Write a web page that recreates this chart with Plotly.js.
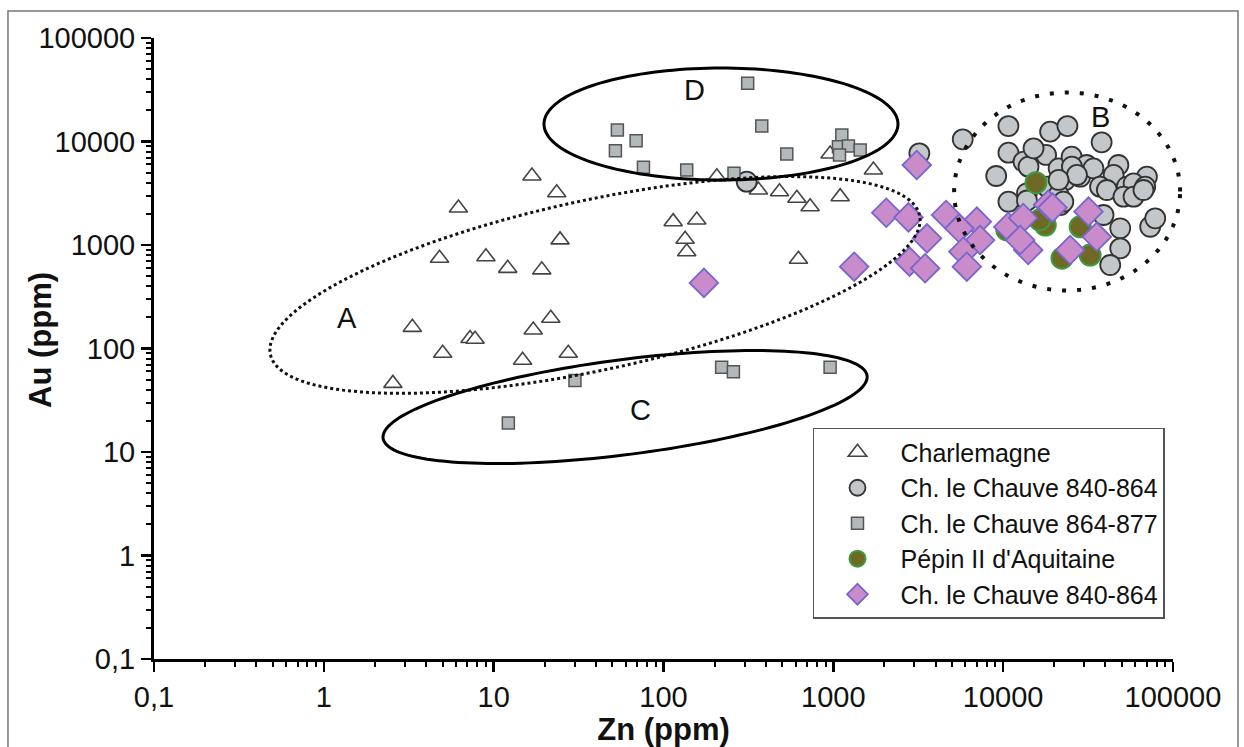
<!DOCTYPE html>
<html>
<head>
<meta charset="utf-8">
<script src="https://cdn.plot.ly/plotly-3.0.1.min.js"></script>
<style>html,body{margin:0;padding:0;background:#fff;}#chart{width:1244px;height:747px;}</style>
</head>
<body>
<div id="chart"></div>
<script>
// ---- data (Zn ppm, Au ppm) ----
const charlemagneZn = [6.2, 16.8, 23.5, 24.6, 4.8, 9.0, 12.1, 19.2, 114, 157, 134, 137, 623, 206, 362, 482, 610, 730, 1097, 1722, 957, 3.32, 5.01, 7.26, 7.77, 2.55, 14.8, 17.1, 21.7, 27.5];
const charlemagneAu = [2280, 4640, 3200, 1120, 745, 770, 595, 575, 1680, 1745, 1135, 860, 728, 4570, 3400, 3270, 2825, 2345, 2930, 5310, 7570, 160, 90, 125, 123, 46, 77, 151, 196, 90];

const chauve1Zn = [309, 5780, 3210, 10740, 18900, 23900, 38000, 10740, 9100, 10740, 15240, 17900, 13180, 14100, 21200, 25300, 31000, 23200, 28400, 34000, 47700, 44700, 70200, 37200, 40800, 53500, 58600, 68600, 51100, 58600, 67000, 39000, 48900, 48900, 42700, 73400, 78600, 21700, 13800, 18100, 25400, 27200, 21200, 22600, 21200, 15100, 13800];
const chauve1Au = [4090, 10500, 7690, 14100, 12450, 14100, 9820, 7800, 4640, 2620, 8280, 7410, 6380, 5710, 5500, 7130, 5930, 4250, 4570, 5500, 5930, 4750, 4570, 3660, 3400, 3660, 3940, 3660, 2930, 2930, 3400, 1950, 1450, 929, 641, 1500, 1810, 2430, 3160, 3660, 5710, 4750, 3040, 2620, 4250, 8590, 2690];

const chauve2Zn = [53.5, 69.0, 52.1, 76.2, 137, 313, 379, 532, 260, 1122, 1072, 1227, 1087, 1439, 30.1, 12.2, 220, 258, 957];
const chauve2Au = [12900, 10180, 8150, 5630, 5310, 36500, 14100, 7570, 4930, 11560, 8910, 9050, 7410, 8270, 49, 19.1, 65.8, 59.7, 65.8];

const pepinZn = [15600, 17700, 16400, 10500, 28400, 22200, 32500];
const pepinAu = [4000, 1560, 1745, 1400, 1500, 745, 800];

const chauve3Zn = [173, 3100, 2050, 2770, 3560, 1327, 2810, 3470, 4610, 7000, 5520, 7310, 5830, 6110, 10720, 13120, 14040, 12590, 18400, 19500, 31800, 35600, 24800];
const chauve3Au = [430, 5930, 2050, 1850, 1160, 617, 690, 596, 1950, 1680, 1450, 1117, 861, 617, 1493, 1824, 895, 1117, 2450, 2300, 2100, 1200, 895];

const seriesNames = ["Charlemagne", "Ch. le Chauve 840-864", "Ch. le Chauve 864-877", "Pépin II d'Aquitaine", "Ch. le Chauve 840-864"];

const tickVals = [0.1, 1, 10, 100, 1000, 10000, 100000];
const tickText = ["0,1", "1", "10", "100", "1000", "10000", "100000"];

// ---- helper geometry ----
const PW = 1019, PH = 621; // plot area in px
function ellipsePath(zn, au, a, b, deg) {
  const cx = (Math.log10(zn) + 1) / 6, cy = (Math.log10(au) + 1) / 6;
  const t = deg * Math.PI / 180;
  let p = '';
  for (let i = 0; i <= 160; i++) {
    const s = 2 * Math.PI * i / 160;
    const ex = a * Math.cos(s), ey = b * Math.sin(s);
    const px = ex * Math.cos(t) - ey * Math.sin(t);
    const py = ex * Math.sin(t) + ey * Math.cos(t);
    p += (i ? 'L' : 'M') + (cx + px / PW).toFixed(5) + ',' + (cy + py / PH).toFixed(5);
  }
  return p + 'Z';
}
const minorVals = [];
for (let e = -1; e < 5; e++) for (let d = 2; d <= 9; d++) minorVals.push(d * Math.pow(10, e));

const traces = [
  {x: charlemagneZn, y: charlemagneAu, name: seriesNames[0], type: 'scatter', mode: 'markers',
   marker: {symbol: 'triangle-up', size: 16, color: '#ffffff', line: {color: '#444', width: 1.6}}},
  {x: chauve1Zn, y: chauve1Au, name: seriesNames[1], type: 'scatter', mode: 'markers',
   marker: {symbol: 'circle', size: 20, color: '#c3c7ca', line: {color: '#333', width: 1.8}}},
  {x: chauve2Zn, y: chauve2Au, name: seriesNames[2], type: 'scatter', mode: 'markers',
   marker: {symbol: 'square', size: 12, color: '#b3b8bb', line: {color: '#555', width: 1.5}}},
  {x: pepinZn, y: pepinAu, name: seriesNames[3], type: 'scatter', mode: 'markers',
   marker: {symbol: 'circle', size: 21, color: '#6e6a24', line: {color: '#3f9a3f', width: 2}}},
  {x: chauve3Zn, y: chauve3Au, name: seriesNames[4], type: 'scatter', mode: 'markers',
   marker: {symbol: 'diamond', size: 22, color: '#c98bc9', line: {color: '#7766cc', width: 1.8}}}
];

const font = 'Liberation Sans, Arial, sans-serif';
const axisCommon = {
  type: 'log', showgrid: false, zeroline: false, showline: true, linecolor: '#000', linewidth: 3,
  ticks: 'outside', ticklen: 10, tickwidth: 2.5, tickcolor: '#000',
  tickmode: 'array', tickvals: tickVals, ticktext: tickText,
  tickfont: {family: font, size: 29, color: '#111'},
  minor: {tickmode: 'array', tickvals: minorVals, ticks: 'outside', ticklen: 5, tickwidth: 2, tickcolor: '#000'},
  range: [-1, 5], fixedrange: true
};

const lbl = (t, px, py) => ({text: t, xref: 'paper', yref: 'paper', x: (px - 154) / PW, y: (659 - py) / PH,
  xanchor: 'center', yanchor: 'middle', showarrow: false, font: {family: font, size: 29, color: '#111'}});

const layout = {
  width: 1244, height: 747,
  margin: {l: 154, r: 71, t: 38, b: 88},
  paper_bgcolor: '#fff', plot_bgcolor: '#fff',
  font: {family: font, color: '#111'},
  xaxis: Object.assign({}, axisCommon, {
    title: {text: '<b>Zn (ppm)</b>', font: {family: font, size: 31, color: '#111'}, standoff: 0}
  }),
  yaxis: Object.assign({}, axisCommon, {ticklabelstandoff: 0}),
  showlegend: true,
  legend: {
    x: 0.6467, y: 0.372, xanchor: 'left', yanchor: 'top',
    bgcolor: '#fff', bordercolor: '#555', borderwidth: 1.5,
    font: {family: font, size: 25, color: '#111'}, itemwidth: 76
  },
  shapes: [
    {type: 'path', xref: 'paper', yref: 'paper', path: ellipsePath(39.5, 411, 332, 85, 12.1), line: {color: '#111', width: 3, dash: 'dot'}},
    {type: 'path', xref: 'paper', yref: 'paper', path: ellipsePath(59.4, 27.2, 244, 47.5, 7.35), line: {color: '#000', width: 3}},
    {type: 'path', xref: 'paper', yref: 'paper', path: ellipsePath(218, 14750, 177, 56, 0), line: {color: '#000', width: 3}},
    {type: 'path', xref: 'paper', yref: 'paper', path: ellipsePath(23800, 3290, 113, 99, 0), line: {color: '#111', width: 4, dash: '4px,11px'}},
    {type: 'rect', xref: 'paper', yref: 'paper', x0: -0.1433, x1: 1.0638, y0: -0.17, y1: 1.0435, line: {color: '#777', width: 1.5}}
  ],
  annotations: [
    {text: '<b>Au (ppm)</b>', xref: 'paper', yref: 'paper', x: (40 - 154) / PW, y: (659 - 340) / PH, textangle: -90,
     xanchor: 'center', yanchor: 'middle', showarrow: false, font: {family: font, size: 31, color: '#111'}},
    lbl('A', 347, 318), lbl('B', 1100, 117), lbl('C', 640, 410), lbl('D', 694, 90)
  ]
};

Plotly.newPlot('chart', traces, layout, {staticPlot: true, displayModeBar: false});
</script>
</body>
</html>
